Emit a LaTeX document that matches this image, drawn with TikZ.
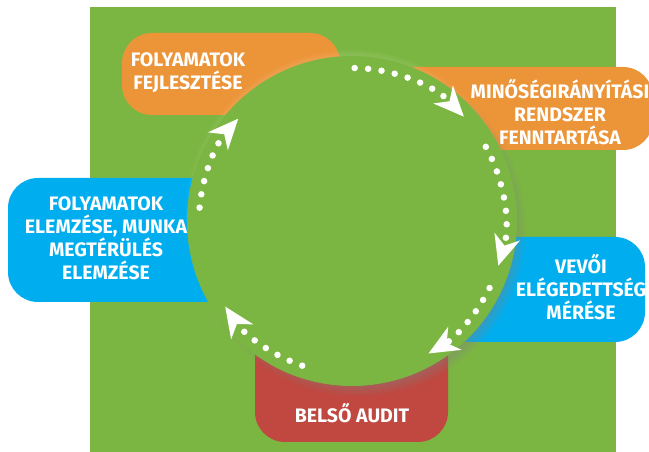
\documentclass[tikz,border=0pt]{standalone}
\usepackage{fontspec}
\setmainfont{Fira Sans}
\usetikzlibrary{arrows.meta,shadows}
\definecolor{zold}{RGB}{124,182,66}
\definecolor{narancs}{RGB}{236,148,56}
\definecolor{kek}{RGB}{0,174,239}
\definecolor{piros}{RGB}{192,72,64}
\tikzset{
  felirat/.style={text=white, font=\bfseries\fontsize{19.5}{23}\selectfont, align=center, inner sep=0pt},
  doboz/.style={rounded corners=30pt},
  pontok/.style={white, line width=6.5pt, line cap=round, dash pattern=on 0pt off 13.5pt,
    -{Stealth[length=30pt,width=26pt,inset=9pt]}},
}
\begin{document}
\begin{tikzpicture}[x=1pt,y=1pt]
	\useasboundingbox (0,0) rectangle (649,452);
	\clip (0,0) rectangle (649,452);
	\fill[zold] (90,0) rectangle (616,445); % hatter
	
	\fill[narancs, doboz] (122,337) rectangle (340,419);
	\fill[narancs, doboz] (380,302) rectangle (653,385);
	\fill[kek, doboz] (8,150) rectangle (240,274);
	\fill[kek, doboz] (440,110) rectangle (645,215);
	\fill[piros, doboz] (255,10) rectangle (448,130);
	
	\coordinate (k) at (352,231); % kor kozepe
	\fill[zold,
	  circular drop shadow={shadow scale=1, shadow xshift=-2pt, shadow yshift=7pt, fill=white, opacity=.4},
	  circular drop shadow={shadow scale=1.02, shadow xshift=6pt, shadow yshift=-7pt, opacity=.8}] (k) circle[radius=165];
	
	\draw[pontok] ([shift={(89:153)}]k) arc[start angle=89, end angle=43, radius=153];
	\draw[pontok] ([shift={(29:153)}]k) arc[start angle=29, end angle=-17, radius=153];
	\draw[pontok] ([shift={(-26:153)}]k) arc[start angle=-26, end angle=-60, radius=153];
	\draw[pontok] ([shift={(251:153)}]k) arc[start angle=251, end angle=214, radius=153];
	\draw[pontok] ([shift={(175:153)}]k) arc[start angle=175, end angle=138, radius=153];
	
	\node[felirat] (fejl) at (188,379) {FOLYAMATOK\\FEJLESZTÉSE};
	\node[felirat] (rendszer) at (560,340) {MINŐSÉGIRÁNYÍTÁSI\\RENDSZER\\FENNTARTÁSA};
	\node[felirat] (elemzes) at (106,214) {FOLYAMATOK\\ELEMZÉSE, MUNKA\\MEGTÉRÜLÉS\\ELEMZÉSE};
	\node[felirat] (vevoi) at (581,165) {VEVŐI\\ELÉGEDETTSÉG\\MÉRÉSE};
	\node[felirat] (audit) at (352,39) {BELSŐ AUDIT};
\end{tikzpicture}
\end{document}
